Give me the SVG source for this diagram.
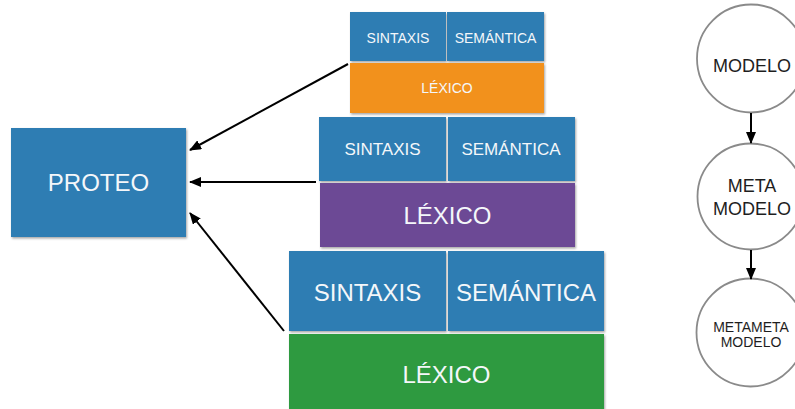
<svg xmlns="http://www.w3.org/2000/svg" width="795" height="409" viewBox="0 0 795 409">
  <defs>
    <filter id="shadow" x="-10%" y="-10%" width="130%" height="130%">
      <feDropShadow dx="1" dy="1.5" stdDeviation="1.2" flood-color="#000" flood-opacity="0.35"/>
    </filter>
    <marker id="head" viewBox="0 0 12 10" refX="11" refY="5" markerWidth="12" markerHeight="10" markerUnits="userSpaceOnUse" orient="auto">
      <path d="M0,0 L12,5 L0,10 Z" fill="#000"/>
    </marker>
  </defs>
  <style>
    .blue { fill: #2f7db3; }
    .orange { fill: #f2911f; }
    .purple { fill: #6c4895; }
    .green { fill: #2f9a41; }
    .box { filter: url(#shadow); }
    .lbl { font-family: "Liberation Sans", Arial, sans-serif; fill: #f4f7fa; text-anchor: middle; }
    .ctext { font-family: "Liberation Sans", Arial, sans-serif; fill: #1e1e1e; text-anchor: middle; }
    .circle { fill: #fff; stroke: #8a8a8a; stroke-width: 1.8; }
    .edge { stroke: #000; stroke-width: 2; fill: none; marker-end: url(#head); }
  </style>
  <rect width="795" height="409" fill="#fff"/>

  <!-- PROTEO -->
  <g id="proteo">
    <rect class="box blue" x="11" y="128" width="175" height="109"/>
    <text class="lbl" x="98.5" y="191" font-size="24">PROTEO</text>
  </g>

  <!-- small stack -->
  <g id="sintaxis-1">
    <rect class="box blue" x="350" y="12" width="96" height="49"/>
    <text class="lbl" x="398" y="43" font-size="14">SINTAXIS</text>
  </g>
  <g id="semantica-1">
    <rect class="box blue" x="447" y="12" width="97" height="49"/>
    <text class="lbl" x="495.5" y="43" font-size="14">SEMÁNTICA</text>
  </g>
  <g id="lexico-1">
    <rect class="box orange" x="350" y="63" width="194" height="50"/>
    <text class="lbl" x="447" y="93" font-size="14">LÉXICO</text>
  </g>

  <!-- medium stack -->
  <g id="sintaxis-2">
    <rect class="box blue" x="319" y="117" width="127" height="64"/>
    <text class="lbl" x="382.5" y="155" font-size="17">SINTAXIS</text>
  </g>
  <g id="semantica-2">
    <rect class="box blue" x="448" y="117" width="127" height="64"/>
    <text class="lbl" x="511" y="155" font-size="17">SEMÁNTICA</text>
  </g>
  <g id="lexico-2">
    <rect class="box purple" x="320" y="183" width="255" height="64"/>
    <text class="lbl" x="447.5" y="224" font-size="24">LÉXICO</text>
  </g>

  <!-- large stack -->
  <g id="sintaxis-3">
    <rect class="box blue" x="289" y="251" width="157" height="80"/>
    <text class="lbl" x="367.5" y="301" font-size="24">SINTAXIS</text>
  </g>
  <g id="semantica-3">
    <rect class="box blue" x="448" y="251" width="156" height="80"/>
    <text class="lbl" x="526" y="301" font-size="24">SEMÁNTICA</text>
  </g>
  <g id="lexico-3">
    <rect class="box green" x="289" y="334" width="315" height="80"/>
    <text class="lbl" x="446.5" y="383" font-size="24">LÉXICO</text>
  </g>

  <!-- model levels -->
  <g id="modelo">
    <circle class="circle" cx="751" cy="58.5" r="54"/>
    <text class="ctext" x="752" y="71.5" font-size="18">MODELO</text>
  </g>
  <g id="metamodelo">
    <circle class="circle" cx="750.5" cy="196.5" r="53"/>
    <text class="ctext" x="752" y="192.3" font-size="18">META</text>
    <text class="ctext" x="752" y="215" font-size="18">MODELO</text>
  </g>
  <g id="metametamodelo">
    <circle class="circle" cx="750.5" cy="332.5" r="54"/>
    <text class="ctext" x="751" y="331.5" font-size="14">METAMETA</text>
    <text class="ctext" x="751" y="346.5" font-size="14">MODELO</text>
  </g>

  <g id="connectors">
    <line class="edge" x1="348" y1="64" x2="190" y2="150"/>
    <line class="edge" x1="316" y1="182" x2="190" y2="182"/>
    <line class="edge" x1="284" y1="331" x2="190" y2="213"/>
    <line class="edge" x1="751" y1="113" x2="751" y2="143"/>
    <line class="edge" x1="751" y1="250" x2="751" y2="279"/>
  </g>
</svg>
